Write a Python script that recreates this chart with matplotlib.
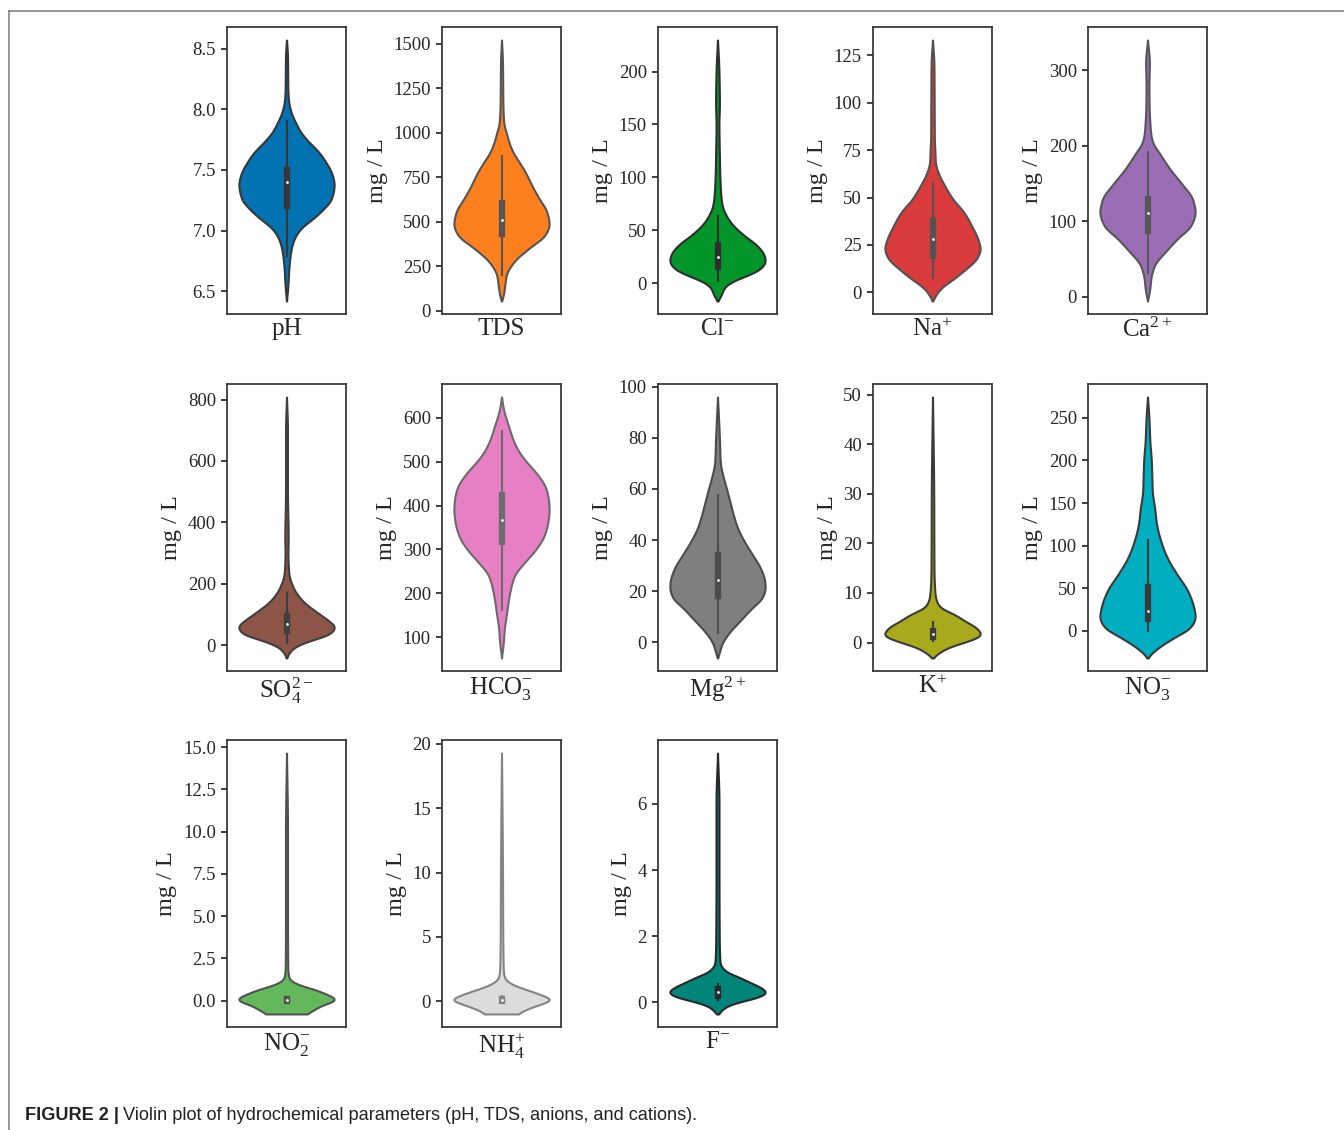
import colorsys
import numpy as np
import matplotlib
matplotlib.use("Agg")
import matplotlib.pyplot as plt
from matplotlib.colors import to_rgb
from matplotlib.lines import Line2D

plt.rcParams.update({
    "font.family": ["Liberation Serif", "DejaVu Serif"],
    "mathtext.fontset": "custom",
    "mathtext.rm": "Liberation Serif",
    "mathtext.it": "Liberation Serif:italic",
    "mathtext.bf": "Liberation Serif:bold",
    "axes.edgecolor": "0.2",
    "axes.linewidth": 1.25,
    "xtick.color": "0.15",
    "ytick.color": "0.15",
    "text.color": "0.15",
    "axes.labelcolor": "0.15",
})

# ---- violin outlines: (concentration, relative half-width) from bottom to top ----
ph_profile = [(6.42, 0.0), (6.55, 0.03), (6.69, 0.05), (6.83, 0.09), (6.93, 0.16),
              (7.02, 0.31), (7.10, 0.56), (7.18, 0.78), (7.26, 0.94), (7.38, 1.0),
              (7.47, 0.95), (7.56, 0.83), (7.645, 0.68), (7.73, 0.47), (7.81, 0.30),
              (7.89, 0.19), (7.97, 0.10), (8.05, 0.05), (8.14, 0.03), (8.45, 0.02),
              (8.57, 0.0)]
tds_profile = [(54, 0.0), (88, 0.04), (144, 0.07), (200, 0.10), (274, 0.26),
               (349, 0.57), (423, 0.91), (483, 1.0), (554, 0.95), (628, 0.79),
               (690, 0.66), (750, 0.55), (787, 0.48), (834, 0.37), (890, 0.24),
               (950, 0.15), (1000, 0.10), (1050, 0.05), (1150, 0.03), (1400, 0.02),
               (1520, 0.0)]
cl_profile = [(-16.6, 0.0), (-11, 0.08), (-4.7, 0.13), (1.5, 0.30), (8, 0.65),
              (14, 0.90), (21, 1.0), (27, 0.97), (36, 0.82), (45, 0.56), (55, 0.32),
              (61, 0.22), (73, 0.10), (83, 0.07), (100, 0.05), (120, 0.04),
              (150, 0.03), (170, 0.04), (200, 0.03), (229.7, 0.0)]
na_profile = [(-4.5, 0.0), (-1.4, 0.07), (2, 0.17), (7.3, 0.45), (12.6, 0.71),
              (18, 0.93), (23, 1.0), (28, 0.95), (35, 0.82), (42.5, 0.65),
              (49, 0.43), (56, 0.26), (63, 0.12), (68.5, 0.06), (75, 0.05),
              (80, 0.04), (100, 0.035), (120, 0.03), (133, 0.0)]
ca_profile = [(-5.7, 0.0), (11, 0.05), (24, 0.07), (42, 0.15), (59, 0.37), (77, 0.63),
              (94, 0.91), (112, 1.0), (130, 0.94), (147, 0.75), (169, 0.47),
              (191, 0.24), (204, 0.11), (215, 0.07), (230, 0.05), (250, 0.035),
              (280, 0.03), (310, 0.04), (340, 0.0)]
so4_profile = [(-41, 0.0), (-28, 0.04), (-6.5, 0.16), (15, 0.48), (37, 0.90), (60, 1.0),
               (85, 0.83), (112, 0.59), (145, 0.33), (188, 0.14), (231, 0.05),
               (250, 0.04), (300, 0.03), (350, 0.035), (500, 0.02), (700, 0.02),
               (808, 0.0)]
hco3_profile = [(53, 0.0), (90, 0.04), (120, 0.06), (150, 0.10), (200, 0.17),
                (240, 0.27), (270, 0.48), (300, 0.72), (330, 0.89), (360, 0.97),
                (390, 1.0), (410, 0.99), (440, 0.93), (470, 0.76), (500, 0.52),
                (520, 0.38), (550, 0.24), (580, 0.15), (600, 0.09), (620, 0.04),
                (647, 0.0)]
mg_profile = [(-6.2, 0.0), (-4, 0.04), (-0.8, 0.09), (3.1, 0.22), (8.3, 0.47),
              (13.5, 0.73), (17.4, 0.94), (21.3, 1.0), (24, 0.99), (29, 0.90),
              (34.3, 0.73), (39.5, 0.56), (44.7, 0.42), (50, 0.33), (55, 0.26),
              (60, 0.19), (64, 0.13), (67, 0.09), (70, 0.06), (80, 0.04), (96, 0.0)]
k_profile = [(-3.1, 0.0), (-2.3, 0.10), (-1.0, 0.32), (0.3, 0.73), (1.5, 1.0),
             (3.0, 0.90), (4.3, 0.67), (5.7, 0.45), (7.0, 0.17), (8.4, 0.08),
             (10, 0.05), (15, 0.03), (30, 0.025), (49.5, 0.0)]
no3_profile = [(-32, 0.0), (-27, 0.08), (-19.5, 0.24), (-8, 0.56), (4, 0.90), (16, 1.0),
               (27, 0.97), (47, 0.84), (66, 0.62), (86, 0.41), (105, 0.28),
               (125, 0.19), (144, 0.15), (164, 0.10), (183, 0.09), (200, 0.08),
               (222, 0.05), (250, 0.03), (274.5, 0.0)]
no2_profile = [(-0.78, 0.37), (-0.59, 0.52), (-0.29, 0.67), (0.06, 1.0), (0.39, 0.79),
               (0.69, 0.54), (0.88, 0.30), (1.0, 0.19), (1.3, 0.05), (2.0, 0.025),
               (5.0, 0.02), (10.0, 0.02), (14.65, 0.0)]
nh4_profile = [(-0.98, 0.30), (-0.6, 0.50), (-0.3, 0.70), (0.13, 1.0), (0.5, 0.78),
               (0.9, 0.50), (1.2, 0.27), (1.5, 0.13), (1.8, 0.06), (2.5, 0.035),
               (5.0, 0.025), (10.0, 0.02), (19.28, 0.0)]
f_profile = [(-0.35, 0.0), (-0.3, 0.05), (-0.15, 0.14), (0.0, 0.40), (0.15, 0.82),
             (0.3, 1.0), (0.45, 0.88), (0.6, 0.66), (0.8, 0.38), (0.9, 0.20),
             (1.2, 0.05), (2.0, 0.035), (4.0, 0.03), (6.0, 0.03), (7.54, 0.0)]

# ---- inner box statistics: lower whisker, Q1, median, Q3, upper whisker ----
ph_box = [6.79, 7.20, 7.40, 7.50, 7.90]
tds_box = [200, 431, 509, 602, 867]
cl_box = [2.5, 15.3, 25, 36.2, 63.4]
na_box = [7.7, 19, 28, 37.4, 57.7]
ca_box = [30.7, 86.6, 110.7, 129, 191]
so4_box = [6.5, 46, 69, 97, 169.5]
hco3_box = [162.6, 317, 366, 425, 569]
mg_box = [3.4, 18.2, 24.3, 34.1, 57.7]
k_box = [0.3, 1.1, 1.67, 2.4, 4.2]
no3_box = [0.0, 13.2, 23.4, 51, 106]
no2_box = [0.0, 0.0, 0.03, 0.08, 0.15]
nh4_box = [0.0, 0.06, 0.13, 0.22, 0.45]
f_box = [0.08, 0.2, 0.3, 0.4, 0.55]

# ---- labels, colours and y ticks ----
names = [r"pH", r"TDS", r"$\mathrm{Cl}^{-}$", r"$\mathrm{Na}^{+}$", r"$\mathrm{Ca}^{2+}$",
         r"$\mathrm{SO}_{4}^{2-}$", r"$\mathrm{HCO}_{3}^{-}$", r"$\mathrm{Mg}^{2+}$",
         r"$\mathrm{K}^{+}$", r"$\mathrm{NO}_{3}^{-}$", r"$\mathrm{NO}_{2}^{-}$",
         r"$\mathrm{NH}_{4}^{+}$", r"$\mathrm{F}^{-}$"]
colors = ["#0173b2", "#fd7f1e", "#02962a", "#d93a3b", "#9b6db5",
          "#8c5547", "#e77fc4", "#7f7f7f", "#a8aa1b", "#00aec2",
          "#62b85a", "#dcdcdc", "#00857a"]
yticks = [[6.5, 7.0, 7.5, 8.0, 8.5],
          [0, 250, 500, 750, 1000, 1250, 1500],
          [0, 50, 100, 150, 200],
          [0, 25, 50, 75, 100, 125],
          [0, 100, 200, 300],
          [0, 200, 400, 600, 800],
          [100, 200, 300, 400, 500, 600],
          [0, 20, 40, 60, 80, 100],
          [0, 10, 20, 30, 40, 50],
          [0, 50, 100, 150, 200, 250],
          [0.0, 2.5, 5.0, 7.5, 10.0, 12.5, 15.0],
          [0, 5, 10, 15, 20],
          [0, 2, 4, 6]]
tick_decimals = [1, 0, 0, 0, 0, 0, 0, 0, 0, 0, 1, 0, 0]
profiles = [ph_profile, tds_profile, cl_profile, na_profile, ca_profile,
            so4_profile, hco3_profile, mg_profile, k_profile, no3_profile,
            no2_profile, nh4_profile, f_profile]
boxes = [ph_box, tds_box, cl_box, na_box, ca_box, so4_box, hco3_box, mg_box,
         k_box, no3_box, no2_box, nh4_box, f_box]


def pchip(x, y, xs):
    """Shape-preserving cubic through the outline points."""
    x = np.asarray(x, float)
    y = np.asarray(y, float)
    h = np.diff(x)
    d = np.diff(y) / h
    m = np.zeros_like(y)
    for k in range(1, len(x) - 1):
        if d[k - 1] * d[k] > 0:
            w1 = 2 * h[k] + h[k - 1]
            w2 = h[k] + 2 * h[k - 1]
            m[k] = (w1 + w2) / (w1 / d[k - 1] + w2 / d[k])
    m[0] = d[0]
    m[-1] = d[-1]
    i = np.clip(np.searchsorted(x, xs) - 1, 0, len(h) - 1)
    t = (xs - x[i]) / h[i]
    h00 = 2 * t**3 - 3 * t**2 + 1
    h10 = t**3 - 2 * t**2 + t
    h01 = -2 * t**3 + 3 * t**2
    h11 = t**3 - t**2
    out = h00 * y[i] + h10 * h[i] * m[i] + h01 * y[i + 1] + h11 * h[i] * m[i + 1]
    return np.clip(out, 0, None)


def soften(w, sigma):
    """Gaussian smoothing of the dense outline, keeping the end values."""
    r = int(3 * sigma)
    k = np.exp(-0.5 * (np.arange(-r, r + 1) / sigma) ** 2)
    k /= k.sum()
    padded = np.concatenate([np.full(r, w[0]), w, np.full(r, w[-1])])
    out = np.convolve(padded, k, mode="valid")
    return out * (w.max() / out.max())


def line_gray(color):
    r, g, b = to_rgb(color)
    v = colorsys.rgb_to_hls(r, g, b)[1] * 0.6
    return (v, v, v)


W, H = 1344, 1130
fig = plt.figure(figsize=(W / 100, H / 100), dpi=100)

row_tops = [27, 384, 740]
col_lefts = [227, 442, 658, 873, 1088]
ax_w, ax_h = 119, 287
lw = 1.5

for n, (name, prof, box, col) in enumerate(zip(names, profiles, boxes, colors)):
    r, c = divmod(n, 5)
    ax = fig.add_axes([col_lefts[c] / W, 1 - (row_tops[r] + ax_h) / H, ax_w / W, ax_h / H])
    gray = line_gray(col)

    pv = np.array([p[0] for p in prof])
    pw = np.array([p[1] for p in prof])
    ys = np.linspace(pv[0], pv[-1], 1000)
    half = 0.4 * soften(pchip(pv, pw, ys), 9)
    ax.fill_betweenx(ys, -half, half, facecolor=col, edgecolor=gray, linewidth=lw, zorder=1)

    lo, q1, med, q3, hi = box
    ax.plot([0, 0], [lo, hi], color=gray, linewidth=lw, zorder=2)
    ax.plot([0, 0], [q1, q3], color=gray, linewidth=lw * 3, zorder=2)
    ax.scatter([0], [med], s=(lw * 2) ** 2, color="white", edgecolor=gray, zorder=3)

    span = pv[-1] - pv[0]
    ax.set_xlim(-0.5, 0.5)
    ax.set_ylim(pv[0] - 0.05 * span, pv[-1] + 0.05 * span)
    ax.set_xticks([])
    ax.set_yticks(yticks[n])
    ax.set_yticklabels([f"{v:.{tick_decimals[n]}f}" for v in yticks[n]])
    ax.tick_params(axis="y", labelsize=13.5, width=1.25, length=4.5)
    ax.set_xlabel(name, fontsize=18, labelpad=3)
    if n > 0:
        ax.set_ylabel("mg / L", fontsize=17.5)

# frame lines of the figure panel
fig.add_artist(Line2D([9 / W, 9 / W], [0, 1 - 10.5 / H], transform=fig.transFigure,
                      color="#7a7a7a", linewidth=1.1))
fig.add_artist(Line2D([9 / W, 1], [1 - 10.5 / H, 1 - 10.5 / H], transform=fig.transFigure,
                      color="#7a7a7a", linewidth=1.1))

# caption
cap_y = 10 / H
t1 = fig.text(25 / W, cap_y, "FIGURE 2 |", fontsize=13.1, fontweight="bold",
              family="Liberation Sans", color="#222222", va="baseline")
fig.canvas.draw()
bb = t1.get_window_extent()
fig.text((bb.x1 + 4) / W, cap_y,
         "Violin plot of hydrochemical parameters (pH, TDS, anions, and cations).",
         fontsize=13.1, family="Liberation Sans", color="#222222", va="baseline")

fig.savefig("out.png", dpi=100)
